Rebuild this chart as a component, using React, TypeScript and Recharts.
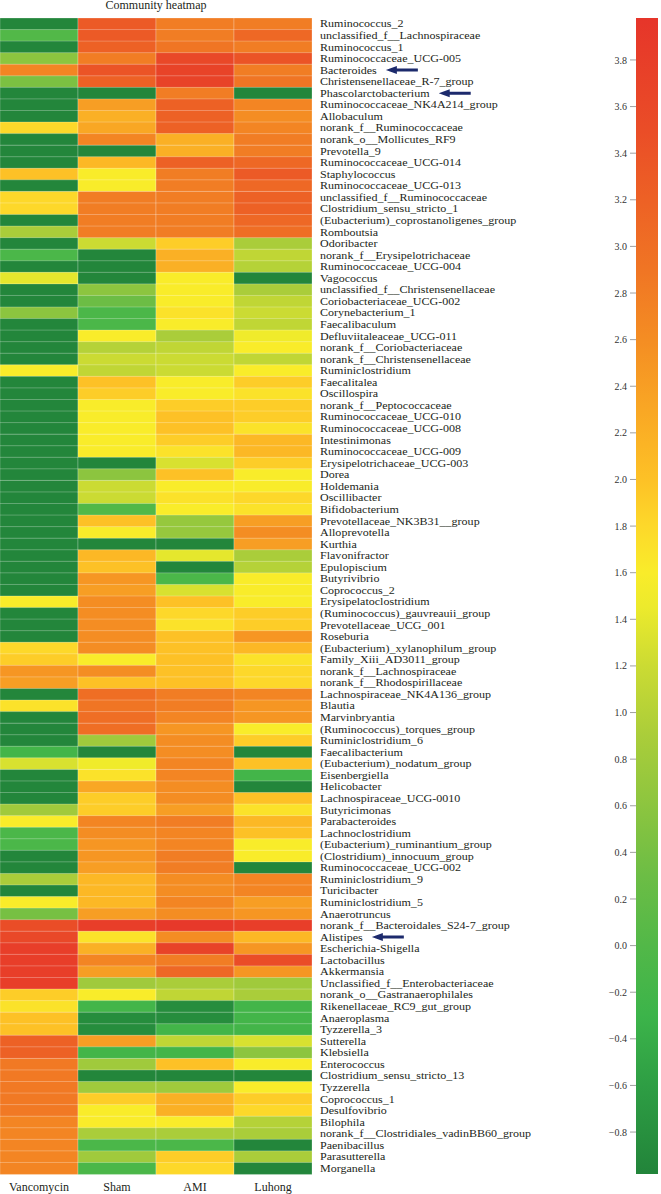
import React from "react";
import { BarChart, Bar, XAxis, YAxis, Cell } from "recharts";

const genera = [
  "Ruminococcus_2", "unclassified_f__Lachnospiraceae", "Ruminococcus_1", "Ruminococcaceae_UCG-005",
  "Bacteroides", "Christensenellaceae_R-7_group", "Phascolarctobacterium", "Ruminococcaceae_NK4A214_group",
  "Allobaculum", "norank_f__Ruminococcaceae", "norank_o__Mollicutes_RF9", "Prevotella_9",
  "Ruminococcaceae_UCG-014", "Staphylococcus", "Ruminococcaceae_UCG-013", "unclassified_f__Ruminococcaceae",
  "Clostridium_sensu_stricto_1", "(Eubacterium)_coprostanoligenes_group", "Romboutsia", "Odoribacter",
  "norank_f__Erysipelotrichaceae", "Ruminococcaceae_UCG-004", "Vagococcus", "unclassified_f__Christensenellaceae",
  "Coriobacteriaceae_UCG-002", "Corynebacterium_1", "Faecalibaculum", "Defluviitaleaceae_UCG-011",
  "norank_f__Coriobacteriaceae", "norank_f__Christensenellaceae", "Ruminiclostridium", "Faecalitalea",
  "Oscillospira", "norank_f__Peptococcaceae", "Ruminococcaceae_UCG-010", "Ruminococcaceae_UCG-008",
  "Intestinimonas", "Ruminococcaceae_UCG-009", "Erysipelotrichaceae_UCG-003", "Dorea",
  "Holdemania", "Oscillibacter", "Bifidobacterium", "Prevotellaceae_NK3B31__group",
  "Alloprevotella", "Kurthia", "Flavonifractor", "Epulopiscium",
  "Butyrivibrio", "Coprococcus_2", "Erysipelatoclostridium", "(Ruminococcus)_gauvreauii_group",
  "Prevotellaceae_UCG_001", "Roseburia", "(Eubacterium)_xylanophilum_group", "Family_Xiii_AD3011_group",
  "norank_f__Lachnospiraceae", "norank_f__Rhodospirillaceae", "Lachnospiraceae_NK4A136_group", "Blautia",
  "Marvinbryantia", "(Ruminococcus)_torques_group", "Ruminiclostridium_6", "Faecalibacterium",
  "(Eubacterium)_nodatum_group", "Eisenbergiella", "Helicobacter", "Lachnospiraceae_UCG-0010",
  "Butyricimonas", "Parabacteroides", "Lachnoclostridium", "(Eubacterium)_ruminantium_group",
  "(Clostridium)_innocuum_group", "Ruminococcaceae_UCG-002", "Ruminiclostridium_9", "Turicibacter",
  "Ruminiclostridium_5", "Anaerotruncus", "norank_f__Bacteroidales_S24-7_group", "Alistipes",
  "Escherichia-Shigella", "Lactobacillus", "Akkermansia", "Unclassified_f__Enterobacteriaceae",
  "norank_o__Gastranaerophilales", "Rikenellaceae_RC9_gut_group", "Anaeroplasma", "Tyzzerella_3",
  "Sutterella", "Klebsiella", "Enterococcus", "Clostridium_sensu_stricto_13",
  "Tyzzerella", "Coprococcus_1", "Desulfovibrio", "Bilophila",
  "norank_f__Clostridiales_vadinBB60_group", "Paenibacillus", "Parasutterella", "Morganella",
];

const groups = ["Vancomycin", "Sham", "AMI", "Luhong"];

const vancomycin = [
  -0.95, 0.0, -0.95, 0.6, 2.7, 0.45, -0.95, -0.95, -0.95, 1.8,
  -0.95, -0.95, -0.95, 2.0, -0.95, 1.8, 1.8, -0.95, 0.9, -0.95,
  -0.1, -0.95, 1.4, -0.95, -0.95, 0.6, -0.95, -0.95, -0.95, -0.95,
  1.6, -0.95, -0.95, -0.95, -0.95, -0.95, -0.95, -0.95, -0.95, -0.95,
  -0.95, -0.95, -0.95, -0.95, -0.95, -0.95, -0.95, -0.95, -0.95, -0.95,
  1.6, -0.95, -0.95, -0.95, 1.8, 1.9, 2.5, 2.4, -0.95, 1.7,
  -0.95, -0.95, -0.95, -0.2, 1.3, -0.95, -0.95, -0.95, 0.8, 1.6,
  -0.1, -0.1, -0.95, -0.95, 0.9, -0.95, 1.6, 0.4, 3.5, 3.6,
  3.8, 3.8, 3.8, 3.8, 1.9, 1.7, 2.0, 2.0, 3.2, 3.2,
  2.85, 2.85, 2.85, 2.85, 2.85, 2.7, 2.7, 2.7, 2.7, 2.7,
];

const sham = [
  3.3, 3.3, 3.2, 2.8, 3.4, 3.2, -0.95, 2.4, 2.2, 2.3,
  2.7, -0.95, 2.1, 1.6, 1.6, 2.8, 2.8, 2.8, 2.8, 1.2,
  -0.95, -0.95, -0.95, 0.6, 0.3, -0.1, -0.1, 1.6, 1.0, 1.2,
  1.1, 2.0, 1.9, 1.6, 1.6, 1.6, 1.6, 1.6, -0.95, 0.6,
  1.2, 1.2, 0.0, 2.0, 1.6, -0.95, 2.1, 2.0, 2.5, 2.4,
  2.6, 2.6, 2.6, 2.6, 2.6, 1.6, 2.6, 2.0, 3.0, 2.9,
  3.0, 3.0, 0.8, -0.95, 1.5, 1.7, 2.3, 1.9, 1.9, 2.7,
  2.6, 2.5, 2.5, 2.4, 2.1, 2.1, 2.1, 2.4, 3.8, 1.7,
  2.2, 2.7, 2.4, 0.8, 1.6, -0.2, -0.85, -0.85, 2.4, -0.2,
  0.8, -0.95, 0.8, 1.9, 1.6, 1.6, 0.9, -0.1, 0.8, -0.1,
];

const ami = [
  2.8, 2.8, 2.9, 3.6, 3.7, 3.7, 2.8, 3.2, 3.2, 3.2,
  2.2, 2.2, 3.2, 2.8, 2.8, 2.8, 2.8, 2.8, 2.8, 1.9,
  2.2, 2.2, 1.6, 1.6, 1.6, 1.7, 1.6, 0.9, 1.1, 1.2,
  1.2, 1.6, 1.6, 1.9, 2.0, 2.0, 1.9, 1.7, 1.3, 2.0,
  1.6, 1.7, 1.6, 0.7, 0.7, -0.95, 1.4, -0.95, -0.1, 1.3,
  2.0, 1.8, 1.7, 2.0, 2.0, 2.0, 2.0, 2.0, 2.8, 2.8,
  2.7, 2.5, 2.6, 2.6, 2.7, 2.7, 2.6, 2.6, 2.4, 2.8,
  2.7, 2.7, 2.8, 2.8, 2.6, 2.6, 2.7, 2.6, 3.9, 2.6,
  3.7, 2.8, 3.1, 0.9, 1.1, -0.85, -0.85, -0.2, 1.1, -0.2,
  2.0, -0.95, 0.8, 2.2, 2.2, 1.6, 0.9, -0.1, 1.9, 1.8,
];

const luhong = [
  2.8, 3.1, 2.8, 3.4, 2.8, 2.9, -0.95, 2.7, 2.6, 2.7,
  2.8, 2.8, 3.1, 3.3, 3.1, 3.2, 3.2, 3.1, 3.0, 0.9,
  1.1, 1.0, -0.95, 0.9, 1.1, 1.2, 1.1, 1.5, 1.6, 1.1,
  1.6, 1.9, 1.7, 1.9, 1.9, 1.7, 2.1, 2.1, 1.9, 1.6,
  1.6, 1.8, 1.7, 2.4, 2.6, 2.4, 0.9, 1.0, 1.6, 1.6,
  1.6, 1.9, 1.9, 2.5, 2.1, 1.7, 1.8, 1.8, 2.7, 2.5,
  2.5, 1.6, 1.9, -0.95, 2.0, -0.2, -0.95, 2.0, 1.7, 2.1,
  2.0, 1.6, 1.6, -0.95, 2.7, 2.7, 2.4, 2.5, 3.8, 2.1,
  2.5, 3.5, 2.5, 0.8, 0.9, -0.2, -0.2, -0.2, 1.3, 0.6,
  1.6, -0.95, 1.6, 1.9, 1.8, 1.0, 0.9, -0.95, 0.9, -0.95,
];

const groupValues = [vancomycin, sham, ami, luhong];

const colorbarTicks = [
  3.8, 3.6, 3.4, 3.2, 3.0, 2.8, 2.6, 2.4, 2.2, 2.0, 1.8, 1.6,
  1.4, 1.2, 1.0, 0.8, 0.6, 0.4, 0.2, 0.0, -0.2, -0.4, -0.6, -0.8,
];
const scaleMin = -0.98;
const scaleMax = 3.98;

const arrowed = ["Bacteroides", "Phascolarctobacterium", "Alistipes"];

// colour ramp, low -> high
const stops: [number, string][] = [
  [-0.98, "#22843a"],
  [-0.6, "#2e9e44"],
  [-0.3, "#3cb44a"],
  [0.0, "#52b848"],
  [0.3, "#6cbd45"],
  [0.6, "#8cc53f"],
  [0.9, "#aacd3a"],
  [1.2, "#cbdb33"],
  [1.45, "#ecea2c"],
  [1.6, "#f9ec2a"],
  [1.8, "#fdd82a"],
  [2.0, "#fdc126"],
  [2.3, "#f9a724"],
  [2.6, "#f48d23"],
  [2.9, "#f07524"],
  [3.2, "#ed6125"],
  [3.5, "#ea4d27"],
  [3.98, "#e6352a"],
];

function hexToRgb(h: string) {
  const n = parseInt(h.slice(1), 16);
  return [(n >> 16) & 255, (n >> 8) & 255, n & 255];
}

function heatColor(v: number) {
  if (v <= stops[0][0]) return stops[0][1];
  for (let i = 1; i < stops.length; i++) {
    const [v1, c1] = stops[i];
    if (v <= v1) {
      const [v0, c0] = stops[i - 1];
      const t = (v - v0) / (v1 - v0);
      const a = hexToRgb(c0);
      const b = hexToRgb(c1);
      const m = a.map((x, k) => Math.round(x + (b[k] - x) * t));
      return `rgb(${m[0]},${m[1]},${m[2]})`;
    }
  }
  return stops[stops.length - 1][1];
}

const rows = genera.map((genus) => ({ genus, g0: 1, g1: 1, g2: 1, g3: 1 }));

const FONT = '"Liberation Serif", "Times New Roman", serif';
const INK = "#231f20";
// genus labels: rows are only ~11.5px apart, so a smaller font stretched sideways
const LABEL_SIZE = 10.3;
const LABEL_STRETCH = 1.17;

let ctx: CanvasRenderingContext2D | null = null;
function textWidth(s: string) {
  if (!ctx) ctx = document.createElement("canvas").getContext("2d");
  if (!ctx) return s.length * 6;
  ctx.font = `${LABEL_SIZE}px ${FONT}`;
  return ctx.measureText(s).width * LABEL_STRETCH;
}

function GenusTick(props: any) {
  const { x, y, payload } = props;
  const label = String(payload.value);
  const showArrow = arrowed.includes(label);
  const ax = x + textWidth(label) + 9;
  return (
    <g>
      <text
        transform={`translate(${x},${y}) scale(${LABEL_STRETCH},1)`}
        x={0}
        y={0}
        dy="0.355em"
        fontSize={LABEL_SIZE}
        fontFamily={FONT}
        fill={INK}
      >
        {label}
      </text>
      {showArrow && (
        <path
          d={`M${ax},${y} L${ax + 11},${y - 4} L${ax + 11},${y - 1.5} L${ax + 32},${y - 1.5} L${ax + 32},${y + 1.5} L${ax + 11},${y + 1.5} L${ax + 11},${y + 4} Z`}
          fill="#1c2a6c"
        />
      )}
    </g>
  );
}

function Heatmap() {
  return (
    <BarChart
      layout="vertical"
      width={661}
      height={1194}
      data={rows}
      margin={{ top: 18, right: 49, bottom: 0, left: 0 }}
      barCategoryGap={0}
    >
      <XAxis
        type="number"
        domain={[0, 4]}
        ticks={[0.5, 1.5, 2.5, 3.5]}
        tickFormatter={(v: number) => groups[Math.floor(v)]}
        axisLine={false}
        tickLine={false}
        height={20}
        tick={{ fontSize: 12, fontFamily: FONT, fill: INK }}
      />
      <YAxis
        type="category"
        dataKey="genus"
        orientation="right"
        width={300}
        interval={0}
        axisLine={false}
        tickLine={false}
        tick={<GenusTick />}
      />
      {groups.map((g, j) => (
        <Bar key={g} dataKey={`g${j}`} stackId="heat" isAnimationActive={false}>
          {rows.map((r, i) => (
            <Cell
              key={r.genus}
              fill={heatColor(groupValues[j][i])}
              stroke="#ffffff"
              strokeOpacity={0.35}
              strokeWidth={0.7}
            />
          ))}
        </Bar>
      ))}
    </BarChart>
  );
}

function ColorBar() {
  const data = [{ name: "scale", range: [scaleMin, scaleMax] }];
  return (
    <BarChart
      width={71}
      height={1194}
      data={data}
      margin={{ top: 18, right: 3, bottom: 20, left: 0 }}
      barCategoryGap={0}
    >
      <defs>
        <linearGradient id="cbar" x1="0" y1="0" x2="0" y2="1">
          {stops
            .slice()
            .reverse()
            .map(([v, c]) => (
              <stop key={v} offset={(scaleMax - v) / (scaleMax - scaleMin)} stopColor={c} />
            ))}
        </linearGradient>
      </defs>
      <XAxis dataKey="name" hide />
      <YAxis
        type="number"
        domain={[scaleMin, scaleMax]}
        ticks={colorbarTicks}
        width={46}
        axisLine={false}
        tickSize={6}
        tickMargin={3}
        tickLine={{ stroke: "#888", strokeWidth: 0.8 }}
        tickFormatter={(v: number) => v.toFixed(1).replace("-", "\u2212")}
        tick={{ fontSize: 10, fontFamily: FONT, fill: "#333" }}
      />
      <Bar dataKey="range" fill="url(#cbar)" isAnimationActive={false} />
    </BarChart>
  );
}

export default function App() {
  return (
    <div style={{ position: "absolute", left: 0, top: 0, width: 661, height: 1194, background: "#fff" }}>
      <div
        style={{
          position: "absolute",
          left: 0,
          top: -1,
          width: 312,
          textAlign: "center",
          fontSize: 12,
          lineHeight: "13px",
          fontFamily: FONT,
          color: INK,
        }}
      >
        Community heatmap
      </div>
      <div style={{ position: "absolute", left: 0, top: 0 }}>
        <Heatmap />
      </div>
      <div style={{ position: "absolute", left: 590, top: 0 }}>
        <ColorBar />
      </div>
    </div>
  );
}
